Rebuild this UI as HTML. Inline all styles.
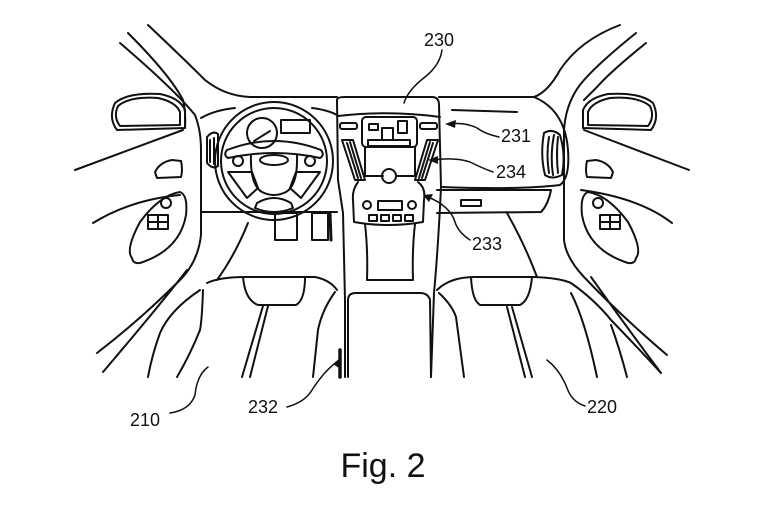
<!DOCTYPE html>
<html><head><style>
html,body{margin:0;padding:0;background:#fff}
svg{display:block}
text{font-family:"Liberation Sans",sans-serif;fill:#111}
</style></head><body>
<svg width="768" height="508" viewBox="0 0 768 508" xmlns="http://www.w3.org/2000/svg">
<g fill="none" stroke="#111" stroke-width="2" stroke-linecap="round" stroke-linejoin="round">
<!-- left pillars -->
<path d="M148 25 Q185 60 205 80 Q225 96 250 97 L337 97"/>
<path d="M128 33 Q170 75 183 100 Q186 112 185 128"/>
<path d="M120 43 Q175 90 195 115 Q201 130 201 150 L201 235 Q198 262 180 280 Q140 320 97 353"/>
<path d="M187 270 Q160 305 103 372"/>
<!-- left mirror -->
<path d="M115 103 Q128 92 160 94 Q180 98 185 110 L185 128 L117 130 Q108 118 115 103 Z"/>
<path d="M118 106 Q130 96 158 98 Q176 102 180 112 L180 125 L120 126 Q113 117 118 106 Z"/>
<path d="M75 170 L183 130"/>
<path d="M155 172 Q160 162 172 160 L181 161 Q183 170 181 177 L157 178 Z"/>
<path d="M93 223 Q130 200 180 195"/>
<path d="M132 258 Q125 250 140 222 Q160 195 180 192 Q188 195 186 215 Q180 250 140 263 Q133 264 132 258 Z"/>
<circle cx="166" cy="203" r="5"/>
<path d="M148 215 h20 v14 h-20z M158 215 v14 M148 222 h20"/>
<!-- right pillars -->
<path d="M534 97 Q548 92 560 70 Q580 40 620 25"/>
<path d="M636 33 Q600 62 584 80 Q566 100 564 130 L564 240 Q566 258 584 277 Q620 315 667 355"/>
<path d="M646 43 Q610 72 597 87 Q588 96 584 100"/>
<path d="M591 277 Q625 325 661 373"/>
<!-- right mirror -->
<path d="M653 103 Q640 92 608 94 Q588 98 583 110 L583 128 L651 130 Q660 118 653 103 Z"/>
<path d="M650 106 Q638 96 610 98 Q592 102 588 112 L588 125 L648 126 Q655 117 650 106 Z"/>
<path d="M584 130 L689 170"/>
<path d="M613 172 Q608 162 596 160 L587 161 Q585 170 587 177 L611 178 Z"/>
<path d="M581 190 Q640 198 672 223"/>
<path d="M636 258 Q643 250 628 222 Q608 195 588 192 Q580 195 582 215 Q588 250 628 263 Q635 264 636 258 Z"/>
<circle cx="598" cy="203" r="5"/>
<path d="M600 215 h20 v14 h-20z M610 215 v14 M600 222 h20"/>
<!-- dashboard left -->
<path d="M201 118 Q215 110 235 108"/>
<path d="M312 108 Q328 110 337 115"/>
<path d="M201 212 L337 212"/>
<path d="M207 137 Q213 130 218 134 L218 166 Q213 170 207 163 Z M210 140 v22 M214 138 v26"/>
<path d="M248 223 Q235 255 217 280"/>
<!-- steering wheel -->
<circle cx="274" cy="161" r="59"/>
<circle cx="274" cy="161" r="53"/>
<circle cx="262" cy="133" r="15"/>
<path d="M254 141 L270 131"/>
<rect x="281" y="120" width="29" height="13"/>
<path d="M227 150 Q274 132 321 150 Q325 155 320 158 Q274 148 228 158 Q223 155 227 150 Z"/>
<ellipse cx="274" cy="160" rx="14" ry="5"/>
<path d="M251 155 Q250 185 262 192 Q274 198 286 192 Q298 185 297 155"/>
<circle cx="238" cy="161" r="5"/><circle cx="310" cy="161" r="5"/>
<path d="M228 172 L252 172 L258 188 L247 198 Z M320 172 L296 172 L290 188 L301 198 Z"/>
<path d="M257 203 Q274 193 291 203 L293 208 Q274 216 255 208 Z"/>
<rect x="275" y="213" width="22" height="27"/>
<rect x="312" y="213" width="16" height="27"/>
<path d="M330 213 L331 240" stroke-width="3"/>
<!-- center console -->
<path d="M337 100 Q337 97 345 97 L432 97 Q439 97 439 105 L441 187 Q438 250 434 293 L431 377"/>
<path d="M337 100 L338 180 Q341 200 343 213 L345 300 L345 377"/>
<path d="M338 116 Q390 110 440 117"/>
<rect x="340" y="123" width="17" height="6" rx="2"/>
<rect x="420" y="123" width="17" height="6" rx="2"/>
<rect x="362" y="117" width="55" height="30" rx="4"/>
<rect x="369" y="124" width="9" height="6"/><rect x="382" y="128" width="11" height="12"/><rect x="398" y="121" width="9" height="12"/>
<path d="M368 140 h42 v6 h-42z"/>
<path d="M342 140 L353 140 L365 180 L355 180 Z M347 143 L358 178 M350 142 L361 178"/>
<path d="M438 140 L427 140 L415 180 L425 180 Z M433 143 L422 178 M430 142 L419 178"/>
<path d="M365 147 L365 175 M415 147 L415 175"/>
<circle cx="389" cy="176" r="7"/>
<path d="M365 176 h18 M396 176 h19"/>
<path d="M358 182 Q352 190 353 200 L354 222 Q388 228 423 222 L424 200 Q426 188 418 182"/>
<circle cx="367" cy="205" r="4"/><circle cx="412" cy="205" r="4"/>
<rect x="378" y="201" width="24" height="9"/>
<path d="M369 215 h8 v6 h-8z M381 215 h8 v6 h-8z M393 215 h8 v6 h-8z M405 215 h8 v6 h-8z"/>
<path d="M365 224 Q368 250 367 280 L413 280 Q412 250 415 224"/>
<!-- lower console -->
<path d="M348 377 L348 300 Q348 293 356 293 L420 293 Q428 293 430 300 L431 377"/>
<path d="M340 350 L340 377" stroke-width="3.5"/>
<!-- dash right -->
<path d="M439 97 L534 97 Q565 110 568 150 Q570 178 560 185 Q520 190 441 187"/>
<path d="M452 110 L517 112"/>
<path d="M544 133 Q552 128 560 135 Q566 155 562 175 Q552 180 545 175 Q540 155 544 133 Z M549 137 Q546 155 549 173 M554 135 Q550 155 553 175 M558 137 Q556 155 558 173"/>
<path d="M437 190 L551 190 Q548 205 541 212 L437 213"/>
<rect x="461" y="200" width="20" height="6"/>
<path d="M507 213 Q525 245 537 277"/>
<!-- left seat -->
<path d="M207 283 Q220 277 245 277 L315 277 Q330 280 337 290"/>
<path d="M243 277 Q245 300 258 305 L296 305 Q305 300 305 277"/>
<path d="M203 290 Q202 320 200 330 Q190 355 177 377"/>
<path d="M200 290 Q170 310 160 333 Q152 355 148 377"/>
<path d="M263 306 L242 377 M268 306 L250 377"/>
<path d="M335 292 Q322 310 318 330 L313 377"/>
<!-- right seat -->
<path d="M437 290 Q450 277 475 277 L534 277 Q560 278 571 283 Q595 300 611 320 Q640 350 661 373"/>
<path d="M471 277 Q472 300 480 305 L520 305 Q530 300 532 277"/>
<path d="M571 293 Q585 320 597 377"/>
<path d="M611 325 Q620 350 627 377"/>
<path d="M507 307 L525 377 M512 307 L532 377"/>
<path d="M439 293 Q452 305 456 317 L464 377"/>
<!-- leaders -->
<path d="M442 50 Q440 65 425 77 Q408 90 404 103" stroke-width="1.5"/>
<path d="M499 137 Q485 134 477 128 Q465 122 450 124" stroke-width="1.5"/>
<path d="M493 172 Q482 168 470 162 Q455 157 433 160" stroke-width="1.5"/>
<path d="M470 240 Q458 232 455 222 Q450 206 428 197" stroke-width="1.5"/>
<path d="M287 407 Q305 402 312 390 Q325 370 337 362" stroke-width="1.5"/>
<path d="M170 413 Q190 410 195 395 Q197 375 208 367" stroke-width="1.5"/>
<path d="M585 406 Q572 402 567 388 Q560 370 547 360" stroke-width="1.5"/>
</g>
<g fill="#111">
<path d="M445 124 L456 120 L455 128 Z"/>
<path d="M428 160 L438 156 L438 164 Z"/>
<path d="M423 195 L433 194 L429 202 Z"/>
<path d="M340 358 L339 368 L333 364 Z"/>
</g>
<text x="424" y="46" font-size="18">230</text>
<text x="501" y="142" font-size="18">231</text>
<text x="496" y="178" font-size="18">234</text>
<text x="472" y="250" font-size="18">233</text>
<text x="248" y="413" font-size="18">232</text>
<text x="130" y="426" font-size="18">210</text>
<text x="587" y="413" font-size="18">220</text>
<text x="383" y="477" font-size="34" text-anchor="middle">Fig. 2</text>
</svg>
</body></html>
